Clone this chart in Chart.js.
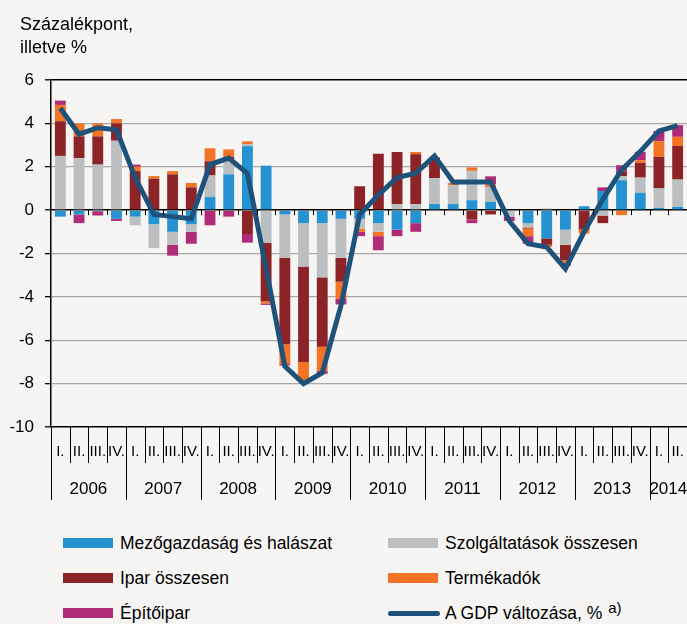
<!DOCTYPE html>
<html>
<head>
<meta charset="utf-8">
<script src="https://cdn.jsdelivr.net/npm/chart.js@4.4.1/dist/chart.umd.min.js"></script>
<style>
  html, body { margin: 0; padding: 0; background: #f6f5f3; }
  #wrap { position: relative; width: 687px; height: 624px; background: #f6f5f3; overflow: hidden;
          font-family: "Liberation Sans", Arial, sans-serif; color: #000; }
  #c { position: absolute; left: 0; top: 0; }
  .ytitle { position: absolute; left: 20px; top: 13px; font-size: 18px; line-height: 23px; }
  .leg { position: absolute; height: 20px; display: flex; align-items: center; font-size: 17.5px; white-space: nowrap; }
  .sw { width: 50px; height: 10px; margin-right: 7px; flex: none; }
  .swl { width: 52px; height: 5px; border-radius: 3px; margin-right: 5px; flex: none; }
  .sup { font-size: 15px; position: relative; top: -6px; margin-left: 6px; }
</style>
</head>
<body>
<div id="wrap">
  <canvas id="c" width="687" height="520"></canvas>
  <div class="ytitle">Százalékpont,<br>illetve %</div>
  <div id="legend"></div>
</div>
<script>
// ---- data ----
const quarterLabels = ['I.','II.','III.','IV.','I.','II.','III.','IV.','I.','II.','III.','IV.','I.','II.','III.','IV.',
  'I.','II.','III.','IV.','I.','II.','III.','IV.','I.','II.','III.','IV.','I.','II.','III.','IV.','I.','II.'];
const yearLabels = ['2006','2007','2008','2009','2010','2011','2012','2013','2014'];
const yTicks = [6,4,2,0,-2,-4,-6,-8,-10];

const agriculture = [-0.3,-0.2,-0.05,-0.4, -0.3,-0.65,-1.0,-0.65, 0.6,1.65,2.95,2.05, -0.2,-0.6,-0.6,-0.4,
  -0.4,-0.6,-0.9,-0.6, 0.28,0.28,0.46,0.38, 0,-0.6,-1.3,-0.9, 0.18,0.88,1.38,0.8, 0.1,0.15];
const services = [2.5,2.4,2.1,3.2, -0.4,-1.1,-0.6,-0.35, 1.0,0.7,0.1,-1.5, -2.0,-2.0,-2.5,-1.8,
  -0.45,-0.4,0.28,0.28, 1.2,0.87,1.35,0.69, -0.3,-0.2,0.08,-0.7, 0,-0.25,0.19,0.7, 0.9,1.26];
const industry = [1.6,1.0,1.3,0.8, 1.8,1.45,1.65,1.05, 0.65,0.1,-1.1,-2.7, -4.0,-4.4,-3.2,-1.1,
  1.1,2.6,2.4,2.3, 0.95,0,-0.43,-0.2, 0,-0.05,-0.3,-0.7, -0.9,-0.35,0.2,0.68, 1.46,1.55];
const taxes = [0.75,0.6,0.6,0.2, 0.2,0.12,0.15,0.2, 0.6,0.35,0.12,-0.1, -0.9,-0.9,-1.1,-0.8,
  -0.15,-0.2,0,0.1, 0,0.1,0.16,0.12, 0,-0.35,-0.1,-0.12, -0.18,0,-0.23,0.12, 0.72,0.42];
const construction = [0.2,-0.4,-0.2,-0.1, 0.1,0,-0.5,-0.55, -0.7,-0.3,-0.4,-0.07, -0.07,0,-0.15,-0.25,
  -0.2,-0.65,-0.3,-0.4, 0,0,-0.17,0.37, -0.2,-0.35,0,-0.15, 0,0.17,0.3,0.39, 0.47,0.54];
const gdp = [4.7,3.5,3.8,3.7, 1.5,-0.2,-0.3,-0.4, 2.1,2.4,1.7,-2.7, -7.2,-8.0,-7.5,-4.4,
  -0.2,0.7,1.5,1.7, 2.5,1.3,1.3,1.3, -0.5,-1.55,-1.7,-2.7, -1.0,0.5,1.85,2.7, 3.65,3.9];

const seriesNames = ['Mezőgazdaság és halászat','Szolgáltatások összesen','Ipar összesen','Termékadók','Építőipar','A GDP változása, %'];
const colors = ['#2592d2','#bcbfc2','#8b2327','#f47324','#b12c78','#1f527a'];

const FONT = '"Liberation Sans", Arial, sans-serif';

// ---- plugin for the two-level category axis and zero-line ticks ----
const axisPlugin = {
  id: 'axisPlugin',
  afterDraw(chart) {
    const ctx = chart.ctx, x = chart.scales.x, y = chart.scales.y;
    const area = chart.chartArea;
    const n = quarterLabels.length;
    const half = (x.getPixelForValue(1) - x.getPixelForValue(0)) / 2;
    const y0 = y.getPixelForValue(0);
    const yb = area.bottom;
    ctx.save();
    ctx.strokeStyle = '#000';
    ctx.lineWidth = 1;
    for (let i = 1; i < n; i++) {
      const px = Math.round(x.getPixelForValue(i) - half) + 0.5;
      ctx.beginPath(); ctx.moveTo(px, y0); ctx.lineTo(px, y0 + 5); ctx.stroke();
    }
    ctx.fillStyle = '#000';
    ctx.font = '15px ' + FONT;
    ctx.textAlign = 'center';
    ctx.textBaseline = 'alphabetic';
    const yearStart = [];
    for (let i = 0; i < n; i++) {
      const left = x.getPixelForValue(i) - half;
      const isYear = quarterLabels[i] === 'I.';
      if (isYear) yearStart.push(i);
      const px = Math.round(left) + 0.5;
      ctx.beginPath(); ctx.moveTo(px, yb); ctx.lineTo(px, isYear ? yb + 73 : yb + 36); ctx.stroke();
      ctx.fillText(quarterLabels[i], x.getPixelForValue(i), yb + 29);
    }
    ctx.font = '17px ' + FONT;
    for (let k = 0; k < yearStart.length; k++) {
      const s = yearStart[k];
      const e = (k + 1 < yearStart.length ? yearStart[k + 1] : n) - 1;
      const cx = (x.getPixelForValue(s) + x.getPixelForValue(e)) / 2;
      ctx.fillText(yearLabels[k], cx, yb + 67);
    }
    ctx.restore();
  }
};

const barSets = [agriculture, services, industry, taxes, construction].map((d, i) => ({
  type: 'bar', label: seriesNames[i], data: d, backgroundColor: colors[i],
  borderWidth: 0, stack: 'bars', order: 1,
  barPercentage: 0.58, categoryPercentage: 1.0
}));

const lineSet = {
  type: 'line', label: seriesNames[5], data: gdp, borderColor: colors[5], backgroundColor: colors[5],
  borderWidth: 5, pointRadius: 0, tension: 0, stack: 'gdp', order: 0,
  borderJoinStyle: 'miter', fill: false
};

new Chart(document.getElementById('c'), {
  type: 'bar',
  data: { labels: quarterLabels, datasets: [...barSets, lineSet] },
  options: {
    responsive: false,
    animation: false,
    layout: { padding: { left: 0, right: 0, top: 80, bottom: 93 } },
    plugins: { legend: { display: false }, tooltip: { enabled: false } },
    scales: {
      x: { display: false, stacked: true },
      y: {
        stacked: true, min: -10, max: 6,
        afterFit(s) { s.width = 51; },
        afterBuildTicks(s) { s.ticks = yTicks.map(v => ({ value: v })); },
        ticks: { font: { size: 17, family: FONT }, color: '#000', padding: 11 },
        grid: {
          color: c => (c.tick && (c.tick.value === 0 || c.tick.value === 6 || c.tick.value === -10)) ? '#000' : '#a8a8a8',
          lineWidth: c => (c.tick && (c.tick.value === 0 || c.tick.value === 6 || c.tick.value === -10)) ? 1.6 : 1.3,
          tickColor: '#000', tickLength: 6, tickWidth: 1.3
        },
        border: { display: true, color: '#000', width: 1.5 }
      }
    }
  },
  plugins: [axisPlugin]
});

// ---- legend (HTML) ----
const legendPos = [
  { x: 63, y: 533, i: 0 }, { x: 388, y: 533, i: 1 },
  { x: 63, y: 568, i: 2 }, { x: 388, y: 568, i: 3 },
  { x: 63, y: 603, i: 4 }, { x: 388, y: 603, i: 5 }
];
const lg = document.getElementById('legend');
legendPos.forEach(p => {
  const d = document.createElement('div');
  d.className = 'leg';
  d.style.left = p.x + 'px';
  d.style.top = p.y + 'px';
  const sw = document.createElement('span');
  sw.className = p.i === 5 ? 'swl' : 'sw';
  sw.style.background = colors[p.i];
  d.appendChild(sw);
  const t = document.createElement('span');
  t.textContent = seriesNames[p.i];
  d.appendChild(t);
  if (p.i === 5) {
    const s = document.createElement('span');
    s.className = 'sup';
    s.textContent = 'a)';
    d.appendChild(s);
  }
  lg.appendChild(d);
});
</script>
</body>
</html>
